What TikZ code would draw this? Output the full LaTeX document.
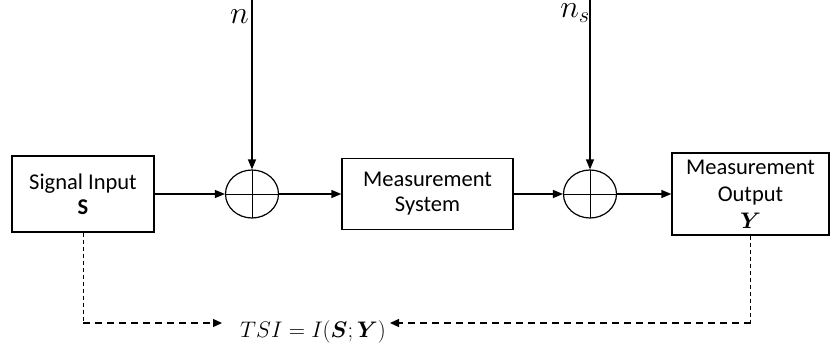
\RequirePackage{fix-cm}
\documentclass[tikz,border=0pt]{standalone}
\usepackage{fontspec}
\setmainfont{Carlito}
\usepackage{bm}
\usetikzlibrary{positioning,arrows.meta,shapes.geometric}

\begin{document}
\begin{tikzpicture}[
        x=1pt, y=-1pt,
        font=\fontsize{22.5}{25}\selectfont,
        block/.style={
            draw,
            line width=1.4pt,
            align=center,
            inner sep=2pt
        },
        sumnode/.style={
            draw,
            ellipse,
            line width=1.2pt,
            minimum width=53pt,
            minimum height=48pt,
            inner sep=0pt,
            path picture={\draw[line width=0.8pt]
                (path picture bounding box.north) -- (path picture bounding box.south)
                (path picture bounding box.west) -- (path picture bounding box.east);}
        },
        noise/.style={anchor=base east, inner sep=1pt, font=\fontsize{32}{32}\selectfont},
        flow/.style={-{Triangle[length=10pt,width=8pt]}, line width=1.4pt},
        drop/.style={line width=0.8pt, dash pattern=on 4pt off 3pt},
        info/.style={-{Triangle[length=9pt,width=8pt]}, line width=1.3pt, dash pattern=on 7pt off 5pt}
    ]
        \useasboundingbox (0,0) rectangle (830,352);

        % Main chain
        \node[block, minimum width=142pt, minimum height=76pt] (input) at (83,194) {Signal Input\\ \textbf{S}};
        \node[sumnode] (sum1) at (252,194) {};
        \node[block, minimum width=171pt, minimum height=71pt] (system) at (427.5,194) {Measurement\\ System};
        \node[sumnode] (sum2) at (590,194) {};
        \node[block, minimum width=157pt, minimum height=82pt, font=\fontsize{22.5}{27}\selectfont] (output) at (750.5,194) {Measurement\\ Output\\ $\bm{Y}$};

        % Noise inputs
        \coordinate (ntop) at (252,0);
        \coordinate (nstop) at (590,0);
        \node[noise] (nlabel) at (250,24) {$n$};
        \node[noise] (nslabel) at (591,18) {$n_s$};

        % Information measure
        \node[anchor=base, inner sep=0pt] (tsi) at (313,338) {$TSI = I(\bm{S};\bm{Y})$};
        \coordinate (tsil) at (222,323);
        \coordinate (tsir) at (390,323);
        \coordinate (lcorner) at (input.south |- tsil);
        \coordinate (rcorner) at (output.south |- tsir);

        % Arrows
        \draw[flow] (ntop) -- (sum1);
        \draw[flow] (nstop) -- (sum2);
        \draw[flow] (input) -- (sum1);
        \draw[flow] (sum1) -- (system);
        \draw[flow] (system) -- (sum2);
        \draw[flow] (sum2) -- (output);

        % Dashed links to TSI
        \draw[drop] (input.south) -- (lcorner);
        \draw[info] (lcorner) -- (tsil);
        \draw[drop] (output.south) -- (rcorner);
        \draw[info] (rcorner) -- (tsir);
    \end{tikzpicture}
\end{document}
